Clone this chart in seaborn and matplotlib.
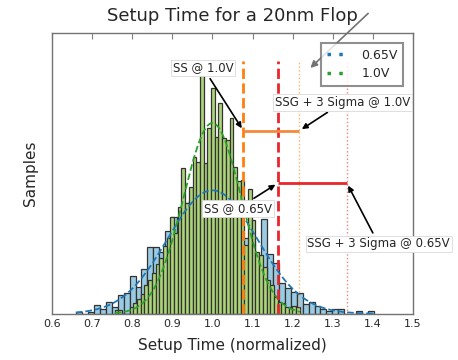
import numpy as np
import seaborn as sns
import matplotlib.pyplot as plt
from matplotlib.lines import Line2D

# histogram bins (normalized setup time)
bins_065 = (0.660, 1.403)
bins_10 = (0.757, 1.218)
n_bins = 50

# bar heights (density)
hist_065 = [0.06, 0.00, 0.05, 0.24, 0.15, 0.34, 0.20, 0.53, 0.60, 1.08,
            0.78, 1.30, 1.92, 1.92, 1.80, 2.40, 2.81, 2.43, 3.20, 3.30,
            3.00, 3.80, 3.40, 3.90, 3.30, 3.50, 3.00, 3.20, 2.19, 2.10,
            1.60, 2.74, 1.73, 1.48, 0.88, 0.74, 0.64, 0.61, 0.28, 0.35,
            0.22, 0.13, 0.09, 0.13, 0.13, 0.00, 0.00, 0.08, 0.00, 0.08]
hist_10 = [0.11, 0.11, 0.00, 0.00, 0.20, 0.30, 0.44, 0.58, 0.83, 0.98,
           1.17, 1.43, 1.60, 1.95, 2.20, 2.81, 2.33, 3.10, 4.21, 3.20,
           3.68, 4.55, 4.40, 6.94, 4.36, 5.37, 6.53, 5.13, 6.10, 5.10,
           5.03, 5.66, 4.26, 3.83, 3.87, 2.00, 3.62, 2.72, 1.80, 1.70,
           1.36, 0.98, 0.83, 0.49, 0.35, 0.30, 0.20, 0.20, 0.22, 0.19]

# normal fit (mean, sigma) shown as dashed curves
fit_065 = (1.0, 0.1117)
fit_10 = (1.0, 0.0723)

# corner markers
ss_10, ssg_10 = 1.077, 1.217
ss_065, ssg_065 = 1.163, 1.335
level_10, level_065 = 5.30, 3.78

labels = ['0.65V', '1.0V']
line_colors = ['#1f77b4', '#2ca02c']
bar_colors = ['#9acbe3', '#acd478']

sns.set_style('white')
plt.rcParams['font.family'] = ['DejaVu Sans']

fig = plt.figure(figsize=(4.58, 3.6), dpi=100)
ax = fig.add_axes([0.113, 0.1286, 0.789, 0.781])

for rng, heights, fit, bc, lc in [(bins_065, hist_065, fit_065, bar_colors[0], line_colors[0]),
                                 (bins_10, hist_10, fit_10, bar_colors[1], line_colors[1])]:
    w = (rng[1] - rng[0]) / n_bins
    x = rng[0] + w * (np.arange(len(heights)) + 0.5)
    sns.histplot(x=x, weights=heights, bins=n_bins, binrange=rng, ax=ax,
                 color=bc, alpha=1.0, edgecolor='#333333', linewidth=0.9)
    mu, sd = fit
    xs = np.linspace(rng[0], rng[1], 200)
    pdf = np.exp(-(xs - mu) ** 2 / (2 * sd ** 2)) / (sd * np.sqrt(2 * np.pi))
    ax.plot(xs, pdf, color=lc, linestyle='--', linewidth=1.3)

# corner / sigma lines
ax.axvline(ss_10, ymax=0.9, color='#ff7f0e', linestyle='--', linewidth=2)
ax.axvline(ss_065, ymax=0.9, color='#e8262b', linestyle='--', linewidth=2)
ax.axvline(ssg_10, ymax=0.9, color='#ffb366', linestyle=':', linewidth=1)
ax.axvline(ssg_065, ymax=0.9, color='#f08080', linestyle=':', linewidth=1)
ax.hlines(level_10, ss_10, ssg_10, color='#f5893a', linewidth=2)
ax.hlines(level_065, ss_065, ssg_065, color='#e8262b', linewidth=2)

box = dict(boxstyle='square,pad=0.15', fc='white', ec='0.85', lw=0.6)
arr = dict(arrowstyle='-|>', color='black', lw=1.2, mutation_scale=8)
ax.annotate('SS @ 1.0V', xy=(ss_10, level_10), xytext=(0.977, 7.12),
            ha='center', va='center', fontsize=8.5, bbox=box, arrowprops=arr)
ax.annotate('SSG + 3 Sigma @ 1.0V', xy=(ssg_10, level_10), xytext=(1.325, 6.12),
            ha='center', va='center', fontsize=8.5, bbox=box, arrowprops=arr,
            annotation_clip=False)
ax.annotate('SS @ 0.65V', xy=(ss_065, level_065), xytext=(1.064, 3.05),
            ha='center', va='center', fontsize=8.5, bbox=box, arrowprops=arr)
ax.annotate('SSG + 3 Sigma @ 0.65V', xy=(ssg_065, level_065), xytext=(1.414, 2.02),
            ha='center', va='center', fontsize=8.5, bbox=box, arrowprops=arr,
            annotation_clip=False)
ax.annotate('', xy=(1.239, 7.06), xytext=(1.393, 8.75),
            arrowprops=dict(arrowstyle='-|>', color='0.45', lw=1.2, mutation_scale=10),
            annotation_clip=False)

ticks = [0.6, 0.7, 0.8, 0.9, 1.0, 1.1, 1.2, 1.3, 1.4, 1.5]
ax.set_xlim(0.6, 1.5)
ax.set_ylim(0, 8.14)
ax.set_xticks(ticks)
ax.set_xticklabels([f'{t:.1f}' for t in ticks], fontsize=8)
ax.set_yticks([])
ax.tick_params(axis='x', direction='in', top=True, length=4, color='0.5', pad=4)
for s in ax.spines.values():
    s.set_color('0.45')
    s.set_linewidth(1)

ax.set_title('Setup Time for a 20nm Flop', fontsize=13, pad=8)
ax.set_xlabel('Setup Time (normalized)', fontsize=11, labelpad=6)
ax.set_ylabel('Samples', fontsize=11, labelpad=10)

handles = [Line2D([0], [0], color=c, lw=2.5, linestyle=(0, (1, 2.4)),
                  dash_capstyle='butt') for c in line_colors]
leg = ax.legend(handles, labels, loc='upper right', fontsize=9, handlelength=1.25,
                handletextpad=1.5, borderpad=0.45, labelspacing=0.45, fancybox=False,
                bbox_to_anchor=(0.99, 0.985))
leg.get_frame().set_edgecolor('0.45')
leg.get_frame().set_linewidth(1.5)

fig.savefig('out.png', dpi=100)
